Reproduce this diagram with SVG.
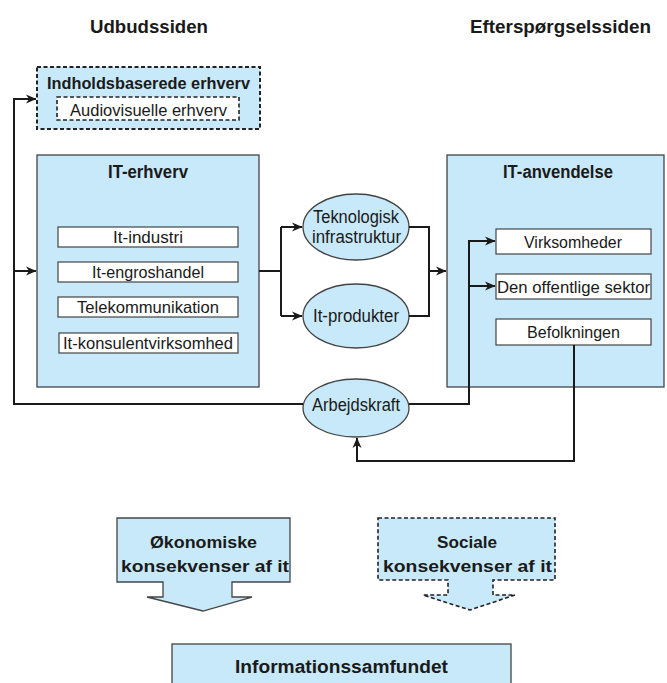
<svg xmlns="http://www.w3.org/2000/svg" width="667" height="683" viewBox="0 0 667 683">
<style>
.box{fill:#c7e9f9;stroke:#444;stroke-width:1.3}
.dbox{fill:#c7e9f9;stroke:#222;stroke-width:2;stroke-dasharray:4 2.5}
.wbox{fill:#fff;stroke:#444;stroke-width:1.2}
.wdbox{fill:#fff;stroke:#222;stroke-width:1.6;stroke-dasharray:4 2.5}
.ell{fill:#c7e9f9;stroke:#444;stroke-width:1.3}
.c{fill:none;stroke:#1a1a1a;stroke-width:2}
text{font-family:"Liberation Sans",Arial,sans-serif;fill:#1a1a1a;font-size:16.5px}
.e{font-size:17.5px}
.b{font-weight:bold;font-size:17px}
.h{font-weight:bold;font-size:18px}
</style>
<defs>
<marker id="ah" markerUnits="userSpaceOnUse" markerWidth="11" markerHeight="10" viewBox="0 0 11 10" refX="10" refY="5" orient="auto">
<path d="M0,0.5 L10.5,5 L0,9.5 L3,5 Z" fill="#1a1a1a"/>
</marker>
</defs>

<g id="headers">
<text class="h" x="90" y="33" textLength="118" lengthAdjust="spacingAndGlyphs">Udbudssiden</text>
<text class="h" x="470" y="33" textLength="181" lengthAdjust="spacingAndGlyphs">Efterspørgselssiden</text>
</g>

<g id="indholdsbaserede">
<rect class="dbox" x="37" y="67" width="223" height="62"/>
<text class="b" x="47" y="89" textLength="203" lengthAdjust="spacingAndGlyphs">Indholdsbaserede erhverv</text>
<g id="audiovisuelle">
<rect class="wdbox" x="57" y="97" width="182" height="23"/>
<text x="70" y="116" textLength="157" lengthAdjust="spacingAndGlyphs">Audiovisuelle erhverv</text>
</g>
</g>

<g id="it-erhverv">
<rect class="box" x="37" y="155" width="222" height="232"/>
<text class="h" x="108" y="178" textLength="80" lengthAdjust="spacingAndGlyphs">IT-erhverv</text>
</g>
<g id="it-industri">
<rect class="wbox" x="58" y="227" width="180" height="20"/>
<text x="113" y="243" textLength="70" lengthAdjust="spacingAndGlyphs">It-industri</text>
</g>
<g id="it-engroshandel">
<rect class="wbox" x="58" y="262" width="180" height="20"/>
<text x="92" y="278" textLength="112" lengthAdjust="spacingAndGlyphs">It-engroshandel</text>
</g>
<g id="telekommunikation">
<rect class="wbox" x="58" y="297" width="180" height="20"/>
<text x="77" y="313" textLength="142" lengthAdjust="spacingAndGlyphs">Telekommunikation</text>
</g>
<g id="it-konsulent">
<rect class="wbox" x="59" y="333" width="179" height="20"/>
<text x="63" y="349" textLength="170" lengthAdjust="spacingAndGlyphs">It-konsulentvirksomhed</text>
</g>

<g id="teknologisk">
<ellipse class="ell" cx="356" cy="227" rx="53" ry="33"/>
<text class="e" x="313" y="223" textLength="86" lengthAdjust="spacingAndGlyphs">Teknologisk</text>
<text class="e" x="312" y="243" textLength="89" lengthAdjust="spacingAndGlyphs">infrastruktur</text>
</g>
<g id="it-produkter">
<ellipse class="ell" cx="356" cy="316" rx="53" ry="32"/>
<text class="e" x="313" y="322" textLength="86" lengthAdjust="spacingAndGlyphs">It-produkter</text>
</g>
<g id="arbejdskraft">
<ellipse class="ell" cx="356" cy="408" rx="53" ry="29"/>
<text class="e" x="312" y="411" textLength="88" lengthAdjust="spacingAndGlyphs">Arbejdskraft</text>
</g>

<g id="it-anvendelse">
<rect class="box" x="447" y="155" width="217" height="232"/>
<text class="h" x="503" y="178" textLength="110" lengthAdjust="spacingAndGlyphs">IT-anvendelse</text>
</g>
<g id="virksomheder">
<rect class="wbox" x="496" y="229" width="155" height="25"/>
<text x="524" y="248" textLength="98" lengthAdjust="spacingAndGlyphs">Virksomheder</text>
</g>
<g id="offentlige">
<rect class="wbox" x="496" y="274" width="155" height="25"/>
<text x="497" y="293" textLength="153" lengthAdjust="spacingAndGlyphs">Den offentlige sektor</text>
</g>
<g id="befolkningen">
<rect class="wbox" x="496" y="319" width="155" height="26"/>
<text x="527" y="338" textLength="93" lengthAdjust="spacingAndGlyphs">Befolkningen</text>
</g>

<g id="okonomiske">
<path class="box" d="M117,518 H290 V582 H232 V597 H252 L203,611 L147,597 H163 V582 H117 Z"/>
<text class="b" x="150" y="548" textLength="107" lengthAdjust="spacingAndGlyphs">Økonomiske</text>
<text class="b" x="121" y="572" textLength="168" lengthAdjust="spacingAndGlyphs">konsekvenser af it</text>
</g>
<g id="sociale">
<path class="dbox" d="M378,518 H555 V580 H493 V595 H515 L470,610 L423,595 H448 V580 H378 Z" style="stroke-width:1.6"/>
<text class="b" x="437" y="548" textLength="60" lengthAdjust="spacingAndGlyphs">Sociale</text>
<text class="b" x="383" y="572" textLength="169" lengthAdjust="spacingAndGlyphs">konsekvenser af it</text>
</g>

<g id="informationssamfundet">
<rect class="box" x="172" y="644" width="339" height="45"/>
<text class="h" x="235" y="673" textLength="213" lengthAdjust="spacingAndGlyphs">Informationssamfundet</text>
</g>

<g id="connectors">
<polyline class="c" points="303,404 14,404 14,99 36,99" marker-end="url(#ah)"/>
<polyline class="c" points="14,271 36,271" marker-end="url(#ah)"/>
<polyline class="c" points="259,271 281,271"/>
<polyline class="c" points="281,227 281,316"/>
<polyline class="c" points="281,227 302,227" marker-end="url(#ah)"/>
<polyline class="c" points="281,316 302,316" marker-end="url(#ah)"/>
<polyline class="c" points="409,227 429,227 429,316 409,316"/>
<polyline class="c" points="429,271 446,271" marker-end="url(#ah)"/>
<polyline class="c" points="409,404 469,404 469,241 495,241" marker-end="url(#ah)"/>
<polyline class="c" points="469,286 495,286" marker-end="url(#ah)"/>
<polyline class="c" points="574,345 574,461 357,461 357,438" marker-end="url(#ah)"/>
</g>
</svg>
